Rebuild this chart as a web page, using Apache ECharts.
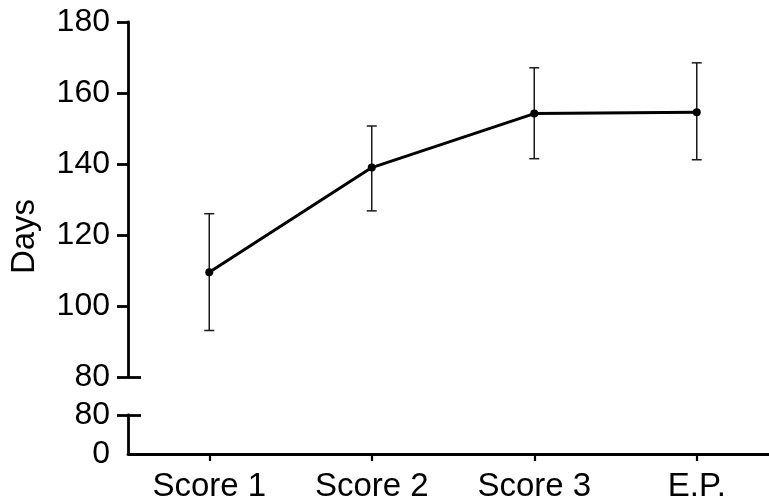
<!DOCTYPE html>
<html>
<head>
<meta charset="utf-8">
<script src="https://cdn.jsdelivr.net/npm/echarts@6/dist/echarts.min.js"></script>
<style>
  html, body { margin: 0; padding: 0; background: #fff; }
  #chart { width: 769px; height: 504px; }
</style>
</head>
<body>
<div id="chart"></div>
<script>
// Time points on the x axis
const categories = ['Score 1', 'Score 2', 'Score 3', 'E.P.'];
// Mean days at each time point, with the lower and upper ends of the error bars
const meanDays = [109.5, 139.0, 154.2, 154.6];
const errLow = [93.1, 126.8, 141.5, 141.2];
const errHigh = [126.0, 150.7, 167.1, 168.5];
// Broken y axis: upper segment 80–180, lower segment 0–80
const upperTicks = { min: 80, max: 180, step: 20 };
const lowerTicks = { min: 0, max: 80, step: 80 };

const FONT = "'Liberation Sans', Arial, sans-serif";
const FS = 32;
const AXIS_W = 2.8;

const chart = echarts.init(document.getElementById('chart'), null, { renderer: 'canvas' });

const errorData = categories.map((c, i) => [i, errLow[i], errHigh[i]]);

const option = {
  backgroundColor: '#ffffff',
  animation: false,
  grid: [
    { left: 128, width: 650, top: 22, height: 355, outerBoundsMode: 'none', containLabel: false },
    { left: 128, width: 650, top: 415, height: 39, outerBoundsMode: 'none', containLabel: false }
  ],
  xAxis: [
    {
      gridIndex: 0, type: 'category', data: categories, show: false
    },
    {
      gridIndex: 1, type: 'category', data: categories,
      axisLine: { show: true, lineStyle: { color: '#000', width: AXIS_W } },
      axisTick: { show: true, alignWithLabel: true, length: 7, lineStyle: { color: '#000', width: 2.2 } },
      axisLabel: { color: '#000', fontFamily: FONT, fontSize: 33, margin: 16 },
      splitLine: { show: false }
    }
  ],
  yAxis: [
    {
      gridIndex: 0, type: 'value',
      min: upperTicks.min, max: upperTicks.max, interval: upperTicks.step,
      name: 'Days', nameLocation: 'middle', nameGap: 87, nameRotate: 90,
      nameTextStyle: { color: '#000', fontFamily: FONT, fontSize: 33, padding: [0, 74, 0, 0] },
      axisLine: { show: true, lineStyle: { color: '#000', width: AXIS_W } },
      axisTick: { show: true, length: 11, lineStyle: { color: '#000', width: AXIS_W } },
      axisLabel: { color: '#000', fontFamily: FONT, fontSize: FS, margin: 18 },
      splitLine: { show: false }
    },
    {
      // break mark at the bottom of the upper segment (inner half of the tick)
      gridIndex: 0, type: 'value',
      min: upperTicks.min, max: upperTicks.max, interval: upperTicks.step,
      position: 'left',
      axisLine: { show: false },
      axisTick: { show: true, inside: true, length: 13, customValues: [80], lineStyle: { color: '#000', width: AXIS_W } },
      axisLabel: { show: false },
      splitLine: { show: false }
    },
    {
      gridIndex: 1, type: 'value',
      min: lowerTicks.min, max: lowerTicks.max, interval: lowerTicks.step,
      axisLine: { show: true, lineStyle: { color: '#000', width: AXIS_W } },
      axisTick: { show: true, length: 11, customValues: [80], lineStyle: { color: '#000', width: AXIS_W } },
      axisLabel: { color: '#000', fontFamily: FONT, fontSize: FS, margin: 18 },
      splitLine: { show: false }
    },
    {
      // break mark at the top of the lower segment (inner half of the tick)
      gridIndex: 1, type: 'value',
      min: lowerTicks.min, max: lowerTicks.max, interval: lowerTicks.step,
      position: 'left',
      axisLine: { show: false },
      axisTick: { show: true, inside: true, length: 13, customValues: [80], lineStyle: { color: '#000', width: AXIS_W } },
      axisLabel: { show: false },
      splitLine: { show: false }
    }
  ],
  series: [
    {
      type: 'custom',
      xAxisIndex: 0, yAxisIndex: 0,
      z: 1,
      data: errorData,
      renderItem: function (params, api) {
        const i = api.value(0);
        const lo = api.coord([i, api.value(1)]);
        const hi = api.coord([i, api.value(2)]);
        const half = 5;
        const style = { stroke: '#1a1a1a', lineWidth: 1.5 };
        return {
          type: 'group',
          children: [
            { type: 'line', shape: { x1: lo[0], y1: lo[1], x2: hi[0], y2: hi[1] }, style: style },
            { type: 'line', shape: { x1: hi[0] - half, y1: hi[1], x2: hi[0] + half, y2: hi[1] }, style: style },
            { type: 'line', shape: { x1: lo[0] - half, y1: lo[1], x2: lo[0] + half, y2: lo[1] }, style: style }
          ]
        };
      }
    },
    {
      type: 'line',
      xAxisIndex: 0, yAxisIndex: 0,
      z: 3,
      data: meanDays,
      symbol: 'circle',
      symbolSize: 8,
      itemStyle: { color: '#000' },
      lineStyle: { color: '#000', width: 3 }
    }
  ]
};

chart.setOption(option);
</script>
</body>
</html>
